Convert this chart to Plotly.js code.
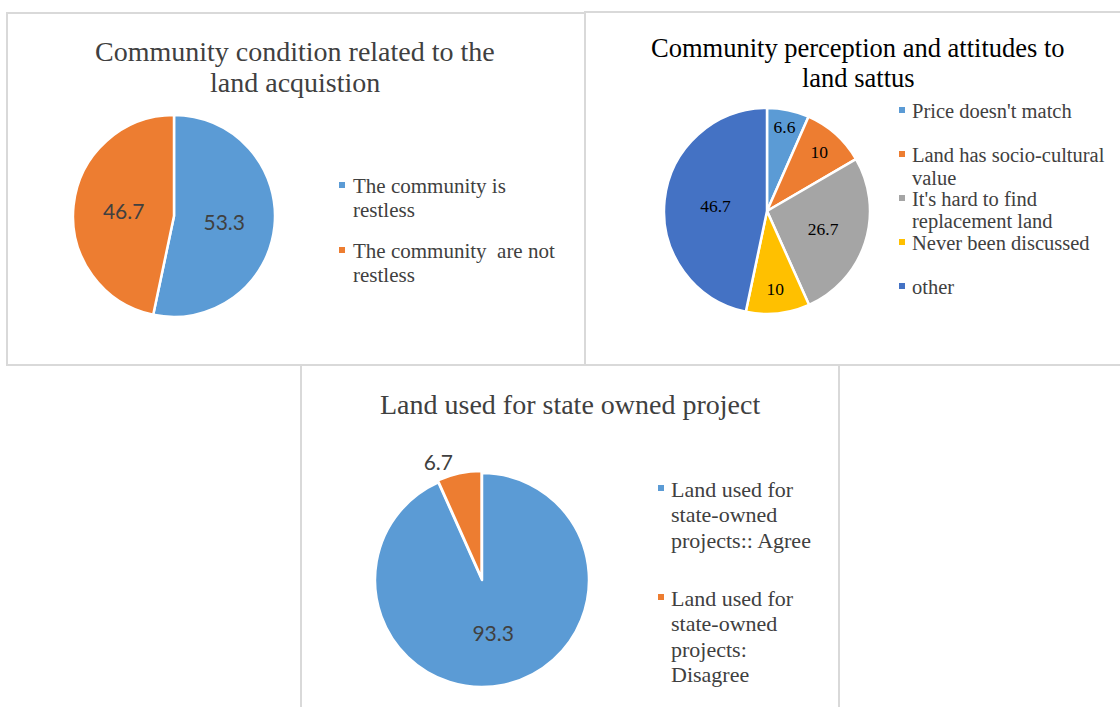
<!DOCTYPE html>
<html>
<head>
<meta charset="utf-8">
<script src="https://cdn.plot.ly/plotly-3.0.1.min.js"></script>
<style>
  html, body { margin: 0; padding: 0; background: #ffffff; }
  #chart { width: 1120px; height: 707px; }
</style>
</head>
<body>
<div id="chart"></div>
<script>
// ---------- DATA ----------
const title1 = "Community condition related to the<br>land acquistion";
const labels1 = ["The community is<br>restless", "The community\u00a0 are not<br>restless"];
const values1 = [53.3, 46.7];
const colors1 = ["#5B9BD5", "#ED7D31"];

const title2 = "Community perception and attitudes to<br>land sattus";
const labels2 = ["Price doesn't match", "Land has socio-cultural<br>value", "It's hard to find<br>replacement land", "Never been discussed", "other"];
const values2 = [6.6, 10, 26.7, 10, 46.7];
const colors2 = ["#5B9BD5", "#ED7D31", "#A5A5A5", "#FFC000", "#4472C4"];

const title3 = "Land used for state owned project";
const labels3 = ["Land used for<br>state-owned<br>projects:: Agree", "Land used for<br>state-owned<br>projects:<br>Disagree"];
const values3 = [93.3, 6.7];
const colors3 = ["#5B9BD5", "#ED7D31"];

// ---------- LAYOUT HELPERS ----------
const W = 1120, H = 707;
const px = x => x / W;
const py = y => 1 - y / H;
function domainFor(cx, cy, r, pull) {
  const k = r * (1 + (pull || 0));
  return { x: [px(cx - k), px(cx + k)], y: [py(cy + k), py(cy - k)] };
}

const serifFont = '"Liberation Serif", "Times New Roman", Times, serif';
const sansFont = 'Lato, Carlito, Calibri, sans-serif';

const annotations = [];
const shapes = [];

// draws a (possibly multi-line) text with a custom line step, one annotation per line
function addLines(text, x, firstY, step, size, color, xanchor) {
  text.split('<br>').forEach((line, j) => {
    annotations.push({
      text: line, x: px(x), y: py(firstY + j * step), xref: 'paper', yref: 'paper',
      xanchor: xanchor, yanchor: 'middle', showarrow: false, align: xanchor === 'center' ? 'center' : 'left',
      font: { family: serifFont, size: size, color: color }
    });
  });
}

function addLegend(labels, colors, markerX, textX, firstY, itemStep, lineStep, size, color) {
  labels.forEach((lab, i) => {
    const cy = firstY + i * itemStep;
    shapes.push({
      type: 'rect', xref: 'paper', yref: 'paper',
      x0: px(markerX - 3), x1: px(markerX + 3), y0: py(cy + 2), y1: py(cy - 4),
      fillcolor: colors[i], line: { width: 0 }
    });
    addLines(lab, textX, cy, lineStep, size, color, 'left');
  });
}

function addBox(x0, y0, x1, y1) {
  shapes.push({
    type: 'rect', xref: 'paper', yref: 'paper',
    x0: px(x0), x1: px(x1), y0: py(y1), y1: py(y0),
    line: { color: '#D9D9D9', width: 2 }, fillcolor: 'rgba(0,0,0,0)', layer: 'below'
  });
}

// panel frames
addBox(7, 13, 585, 365);
addBox(585, 12, 1121, 365);
addBox(301, 365, 839, 710);

// titles
addLines(title1, 295, 51, 32, 28, '#404040', 'center');
addLines(title2, 858, 48, 30, 26.5, '#000000', 'center');
addLines(title3, 570, 404, 32, 28, '#404040', 'center');

// legends
addLegend(labels1, colors1, 342, 351, 186, 65, 24, 21, '#404040');
addLegend(labels2, colors2, 902, 910, 111, 44, 22.5, 20.5, '#404040');
addLegend(labels3, colors3, 661, 669, 489, 109, 25.5, 22, '#404040');

const traces = [
  {
    type: 'pie', labels: labels1, values: values1, sort: false, direction: 'clockwise', rotation: 0,
    marker: { colors: colors1, line: { color: '#ffffff', width: 2.5 } },
    texttemplate: '%{value}', textposition: 'inside', insidetextorientation: 'horizontal',
    textfont: { family: sansFont, size: 21, color: '#404040' },
    domain: domainFor(174, 216, 101, 0), showlegend: false, hoverinfo: 'label+value'
  },
  {
    type: 'pie', labels: labels2, values: values2, sort: false, direction: 'clockwise', rotation: 0,
    marker: { colors: colors2, line: { color: '#ffffff', width: 2.5 } },
    texttemplate: '%{value}', textposition: 'inside', insidetextorientation: 'horizontal',
    textfont: { family: serifFont, size: 17.5, color: '#000000' },
    domain: domainFor(767, 211, 103, 0), showlegend: false, hoverinfo: 'label+value'
  },
  {
    type: 'pie', labels: labels3, values: values3, sort: false, direction: 'clockwise', rotation: 0,
    pull: [0, 0.02],
    marker: { colors: colors3, line: { color: '#ffffff', width: 2.5 } },
    texttemplate: '%{value}', textposition: ['inside', 'outside'], insidetextorientation: 'horizontal',
    textfont: { family: sansFont, size: 21, color: '#404040' },
    domain: domainFor(482, 580, 107, 0.02), showlegend: false, hoverinfo: 'label+value'
  }
];

const layout = {
  width: W, height: H,
  margin: { l: 0, r: 0, t: 0, b: 0 },
  paper_bgcolor: '#ffffff',
  showlegend: false,
  annotations: annotations,
  shapes: shapes
};

Plotly.newPlot('chart', traces, layout, { displayModeBar: false, staticPlot: true });
</script>
</body>
</html>
